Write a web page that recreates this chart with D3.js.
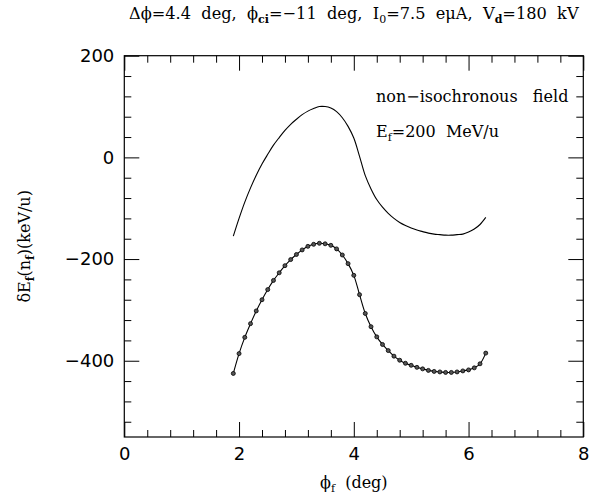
<!DOCTYPE html>
<html>
<head>
<meta charset="utf-8">
<script src="https://cdn.jsdelivr.net/npm/d3@7/dist/d3.min.js"></script>
<style>
body { margin: 0; background: #fff; }
.tick text { font-family: "DejaVu Sans", sans-serif; font-size: 18px; fill: #000; }
.lab { font-family: "DejaVu Serif", serif; fill: #000; white-space: pre; }
</style>
</head>
<body>
<div id="chart"></div>
<script>
// final phase (deg)
const phi_f = [1.9, 2.0, 2.1, 2.2, 2.3, 2.4, 2.5, 2.6, 2.7, 2.8, 2.9, 3.0, 3.1, 3.2, 3.3,
    3.4, 3.5, 3.6, 3.7, 3.8, 3.9, 4.0, 4.1, 4.2, 4.3, 4.4, 4.5, 4.6, 4.7, 4.8, 4.9,
    5.0, 5.1, 5.2, 5.3, 5.4, 5.5, 5.6, 5.7, 5.8, 5.9, 6.0, 6.1, 6.2, 6.3];
// upper curve, plain line
const dE_line = [-155, -120, -88, -60, -35, -13, 6, 24, 39, 53, 65, 75, 84, 91, 96,
    100, 100, 97, 90, 78, 61, 38, 2, -36, -62, -83, -98, -110, -120, -128, -134,
    -139, -143, -146, -149, -151, -152, -153, -153, -152, -151, -147, -141, -132, -118];
// lower curve, line with dots
const dE_points = [-425, -386, -354, -327, -302, -280, -260, -242, -227, -213, -201, -191, -182, -175, -171,
    -169, -170, -173, -180, -192, -209, -232, -270, -307, -333, -353, -368, -380, -391, -399, -405,
    -409, -413, -416, -419, -421, -422, -423, -423, -422, -420, -418, -414, -406, -385];

const x_ticks = [0, 2, 4, 6, 8];
const y_ticks = [-400, -200, 0, 200];

const width = 595;
const height = 494;
const margin = { left: 124.3, right: 11.7, top: 55.7, bottom: 57 };

const svg = d3.select('#chart')
    .append('svg')
    .attr('width', width)
    .attr('height', height);

const x = d3.scaleLinear().domain([0, 8]).range([margin.left, width - margin.right]);
const y = d3.scaleLinear().domain([-550, 200]).range([height - margin.bottom, margin.top]);

const minor_x = d3.range(0, 8.001, 0.4).filter(v => Math.abs(v / 2 - Math.round(v / 2)) > 0.01);
const minor_y = d3.range(-520, 201, 40).filter(v => v % 200 !== 0);

const fmt = d => d < 0 ? "\u2212" + Math.abs(d) : String(d);

// axes: ticks point inward on all four sides
svg.append('g')
    .attr('transform', 'translate(0,' + y(-550) + ')')
    .call(d3.axisBottom(x).tickValues(x_ticks).tickSize(-15).tickPadding(10).tickFormat(fmt));
svg.append('g')
    .attr('transform', 'translate(0,' + y(-550) + ')')
    .call(d3.axisBottom(x).tickValues(minor_x).tickSize(-7).tickFormat(''));
svg.append('g')
    .attr('transform', 'translate(0,' + y(200) + ')')
    .call(d3.axisTop(x).tickValues(x_ticks).tickSize(-15).tickFormat(''));
svg.append('g')
    .attr('transform', 'translate(0,' + y(200) + ')')
    .call(d3.axisTop(x).tickValues(minor_x).tickSize(-7).tickFormat(''));

svg.append('g')
    .attr('transform', 'translate(' + x(0) + ',0)')
    .call(d3.axisLeft(y).tickValues(y_ticks).tickSize(-15).tickPadding(10).tickFormat(fmt));
svg.append('g')
    .attr('transform', 'translate(' + x(0) + ',0)')
    .call(d3.axisLeft(y).tickValues(minor_y).tickSize(-7).tickFormat(''));
svg.append('g')
    .attr('transform', 'translate(' + x(8) + ',0)')
    .call(d3.axisRight(y).tickValues(y_ticks).tickSize(-15).tickFormat(''));
svg.append('g')
    .attr('transform', 'translate(' + x(8) + ',0)')
    .call(d3.axisRight(y).tickValues(minor_y).tickSize(-7).tickFormat(''));

svg.selectAll('.domain').remove();
svg.selectAll('.tick line').attr('stroke', '#000').attr('stroke-width', 1);

svg.append('rect')
    .attr('x', x(0)).attr('y', y(200))
    .attr('width', x(8) - x(0)).attr('height', y(-550) - y(200))
    .attr('fill', 'none').attr('stroke', '#000').attr('stroke-width', 1.2);

// curves
const line_gen = d3.line()
    .x((d, i) => x(phi_f[i]))
    .y(d => y(d))
    .curve(d3.curveCatmullRom);

svg.append('path')
    .datum(dE_line)
    .attr('d', line_gen)
    .attr('fill', 'none').attr('stroke', '#000').attr('stroke-width', 1.1);

svg.append('path')
    .datum(dE_points)
    .attr('d', line_gen)
    .attr('fill', 'none').attr('stroke', '#000').attr('stroke-width', 1.1);

svg.selectAll('.dot')
    .data(dE_points)
    .enter()
    .append('circle')
    .attr('class', 'dot')
    .attr('cx', (d, i) => x(phi_f[i]))
    .attr('cy', d => y(d))
    .attr('r', 2)
    .attr('fill', '#555')
    .attr('stroke', '#000')
    .attr('stroke-width', 0.8);

// texts
const title = svg.append('text').attr('class', 'lab')
    .attr('x', x(4)).attr('y', 19).attr('text-anchor', 'middle').style('font-size', '16.2px');
title.append('tspan').text('\u0394\u03d5=4.4  deg,  \u03d5');
title.append('tspan').text('ci').attr('dy', 4).style('font-size', '11px').style('font-weight', 'bold');
title.append('tspan').text('=\u221211  deg,  I').attr('dy', -4);
title.append('tspan').text('0').attr('dy', 4).style('font-size', '11px');
title.append('tspan').text('=7.5  e\u03bcA,  V').attr('dy', -4);
title.append('tspan').text('d').attr('dy', 4).style('font-size', '11px').style('font-weight', 'bold');
title.append('tspan').text('=180  kV').attr('dy', -4);

const xl = svg.append('text').attr('class', 'lab')
    .attr('x', x(4)).attr('y', 488).attr('text-anchor', 'middle').style('font-size', '16px');
xl.append('tspan').text('\u03d5');
xl.append('tspan').text('f').attr('dy', 4).style('font-size', '11px');
xl.append('tspan').text('  (deg)').attr('dy', -4);

const yl = svg.append('text').attr('class', 'lab')
    .attr('transform', 'translate(30,' + y(-175) + ') rotate(-90)')
    .attr('text-anchor', 'middle').style('font-size', '16px');
yl.append('tspan').text('\u03b4E');
yl.append('tspan').text('f').attr('dy', 4).style('font-size', '11px').style('font-weight', 'bold');
yl.append('tspan').text('(n').attr('dy', -4);
yl.append('tspan').text('f').attr('dy', 4).style('font-size', '11px').style('font-weight', 'bold');
yl.append('tspan').text(')(keV/u)').attr('dy', -4);

svg.append('text').attr('class', 'lab')
    .attr('x', 376).attr('y', 102).style('font-size', '16px')
    .text('non\u2212isochronous   field');

const ef = svg.append('text').attr('class', 'lab')
    .attr('x', 376).attr('y', 137).style('font-size', '16px');
ef.append('tspan').text('E');
ef.append('tspan').text('f').attr('dy', 4).style('font-size', '11px');
ef.append('tspan').text('=200  MeV/u').attr('dy', -4);
</script>
</body>
</html>
